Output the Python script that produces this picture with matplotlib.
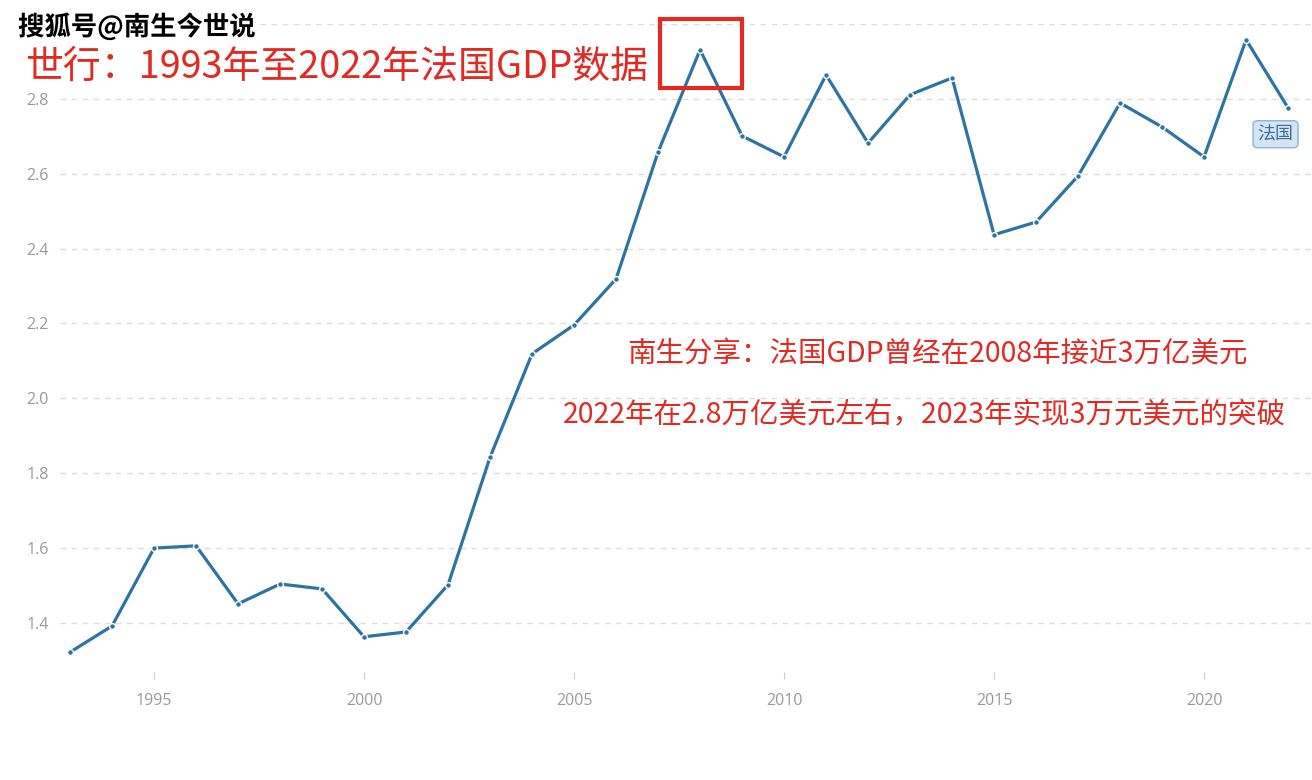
import matplotlib.pyplot as plt
import matplotlib.patheffects as pe
from matplotlib.patches import Rectangle

# data (trillion USD)
years = list(range(1993, 2023))
gdp = [1.322, 1.392, 1.600, 1.606, 1.451, 1.504, 1.491, 1.363, 1.376, 1.502,
       1.843, 2.119, 2.196, 2.319, 2.658, 2.931, 2.701, 2.645, 2.864, 2.682,
       2.811, 2.856, 2.437, 2.471, 2.594, 2.789, 2.725, 2.645, 2.958, 2.776]
yticks = [1.4, 1.6, 1.8, 2.0, 2.2, 2.4, 2.6, 2.8, 3.0]
xticks = [1995, 2000, 2005, 2010, 2015, 2020]

title = '世行：1993年至2022年法国GDP数据'
note1 = '南生分享：法国GDP曾经在2008年接近3万亿美元'
note2 = '2022年在2.8万亿美元左右，2023年实现3万元美元的突破'
watermark = '搜狐号@南生今世说'
series_name = '法国'

plt.rcParams['font.family'] = ['Noto Sans CJK SC', 'DejaVu Sans']

line_color = '#2f73a0'
red = '#e02a22'

fig = plt.figure(figsize=(13.12, 7.8), dpi=100)
ax = fig.add_axes([60 / 1312, 1 - 672 / 780, 1 - 60 / 1312, (672 - 24) / 780])

ax.plot(years, gdp, color=line_color, lw=2.3, marker='o', ms=4.2,
        mfc=line_color, mec='white', mew=1.0, zorder=3, solid_joinstyle='round')

ax.set_xlim(1992.76, 2022.57)
ax.set_ylim(1.269, 3.0)
ax.set_yticks(yticks)
ax.set_yticklabels(['' if v == 3.0 else f'{v:.1f}' for v in yticks])
ax.set_xticks(xticks)
ax.yaxis.grid(True, color='#dcdcdc', ls=(0, (4, 4)), lw=1)
for s in ax.spines.values():
    s.set_visible(False)
ax.tick_params(axis='y', length=0, labelsize=11.5, labelcolor='#999999', pad=8)
ax.tick_params(axis='x', length=5, color='#cccccc', labelsize=11.5, labelcolor='#999999', pad=10)
for lab in ax.get_xticklabels() + ax.get_yticklabels():
    lab.set_family(['Open Sans', 'DejaVu Sans'])

# series label at the end of the line
ax.annotate(series_name, xy=(years[-1], gdp[-1]), xytext=(-9, -19),
            textcoords='offset points', ha='center', va='center',
            fontsize=13, color='#3a6f99', annotation_clip=False,
            bbox=dict(boxstyle='round,pad=0.25', fc='#d3e5f5', ec='#8fb3d3', lw=1))

# red box around 2008 peak
fig.patches.append(Rectangle((660 / 1312, 1 - 88 / 780), 82 / 1312, 69 / 780,
                             transform=fig.transFigure, fill=False,
                             ec=red, lw=3, zorder=5))

fig.text(25 / 1312, 1 - 67 / 780, title, color=red, fontsize=27.3,
         ha='left', va='center')
fig.text(937 / 1312, 1 - 355 / 780, note1, color=red, fontsize=20.5,
         ha='center', va='center')
fig.text(924 / 1312, 1 - 415 / 780, note2, color=red, fontsize=20.5,
         ha='center', va='center')
fig.text(18 / 1312, 1 - 27 / 780, watermark, color='black', fontsize=19,
         ha='left', va='center', weight='bold',
         path_effects=[pe.withStroke(linewidth=3, foreground='white')])

fig.savefig('out.png', dpi=100, facecolor='white')
